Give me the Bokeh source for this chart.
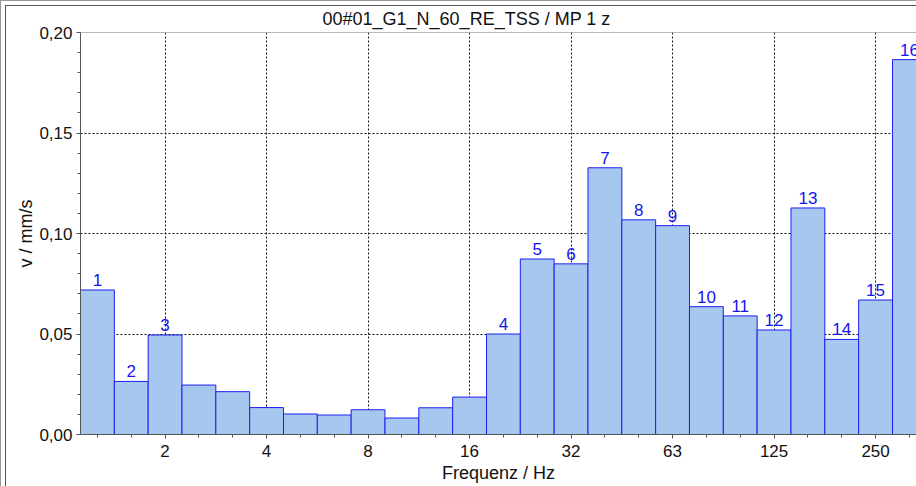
from bokeh.plotting import figure
from bokeh.models import (Range1d, FixedTicker, CustomJSTickFormatter, Span, ColumnDataSource)
from bokeh.core.properties import value
from bokeh.embed import file_html
from bokeh.resources import INLINE

# Third-octave band centre frequencies (Hz)
bands = ["1.25", "1.6", "2", "2.5", "3.15", "4", "5", "6.3", "8", "10", "12.5", "16",
         "20", "25", "31.5", "40", "50", "63", "80", "100", "125", "160", "200", "250", "315"]
# velocity per band (mm/s)
values = [0.0719, 0.0264, 0.0495, 0.0246, 0.0213, 0.0134, 0.0102, 0.0097, 0.0123, 0.0082,
          0.0133, 0.0186, 0.0500, 0.0873, 0.0849, 0.1327, 0.1068, 0.1039, 0.0636, 0.0590,
          0.0520, 0.1127, 0.0473, 0.0669, 0.1865]
# numbered peak markers: band of each marker
peak_bands = ["1.25", "1.6", "2", "20", "25", "31.5", "40", "50", "63", "80", "100",
              "125", "160", "200", "250", "315"]
peak_numbers = [str(i) for i in range(1, 17)]
# x tick labels and the bands they sit on
tick_bands = ["2", "4", "8", "16", "31.5", "63", "125", "250"]
tick_labels = ["2", "4", "8", "16", "32", "63", "125", "250"]
y_ticks = [0.0, 0.05, 0.10, 0.15, 0.20]

title_text = "00#01_G1_N_60_RE_TSS / MP 1 z"
FONT = "Liberation Sans"
FS = "17px"
FSL = "18px"

x_idx = list(range(len(bands)))
bar_src = ColumnDataSource(dict(x=x_idx, top=values))
peak_x = [bands.index(b) for b in peak_bands]
peak_y = [values[i] for i in peak_x]
lab_src = ColumnDataSource(dict(x=peak_x, y=peak_y, t=peak_numbers))

W, H = 916, 486
p = figure(width=W, height=H, output_backend="svg", toolbar_location=None,
           x_range=Range1d(-0.5, 24.21), y_range=Range1d(0, 0.2),
           min_border_left=80, min_border_right=0, min_border_top=32, min_border_bottom=52)
p.outline_line_color = None
p.background_fill_color = "white"
p.border_fill_color = None
p.styles = {"box-shadow": "inset 1px 1px 0 0 #999999, inset 5px 5px 0 0 #ffffff, "
                          "inset 6px 6px 0 0 #555555",
            "background-color": "white"}

p.title.text = title_text
p.title.align = "left"
p.title.offset = 242
p.title.text_font = FONT
p.title.text_font_size = FSL
p.title.text_font_style = "normal"
p.title.text_color = "#111111"
p.title.standoff = 7

p.vbar(x="x", top="top", width=1.0, source=bar_src,
       fill_color="#A6C8EF", line_color="#1E1EF2", line_width=1)

p.text(x="x", y="y", text="t", source=lab_src, text_align="center",
       text_baseline="bottom", y_offset=-4, text_color="#1414F0",
       text_font=value(FONT), text_font_size=FS)

# axes
xa = p.xaxis[0]
xa.ticker = FixedTicker(ticks=[bands.index(b) for b in tick_bands], minor_ticks=x_idx)
xa.major_label_overrides = {bands.index(b): l for b, l in zip(tick_bands, tick_labels)}
xa.axis_label = "Frequenz / Hz"
ya = p.yaxis[0]
ya.ticker = FixedTicker(ticks=y_ticks, minor_ticks=[i * 0.01 for i in range(21)])
ya.formatter = CustomJSTickFormatter(code="return tick.toFixed(2).replace('.', ',');")
ya.axis_label = "v / mm/s"
for ax in (xa, ya):
    ax.axis_line_color = "#555555"
    ax.major_tick_line_color = "#555555"
    ax.minor_tick_line_color = "#555555"
    ax.major_tick_in = 0
    ax.major_tick_out = 4
    ax.minor_tick_in = 0
    ax.minor_tick_out = 3
    ax.major_label_text_font = FONT
    ax.major_label_text_font_size = FS
    ax.major_label_text_color = "#111111"
    ax.axis_label_text_font = FONT
    ax.axis_label_text_font_size = FSL
    ax.axis_label_text_font_style = "normal"
    ax.axis_label_text_color = "#111111"
xa.major_label_standoff = 6
xa.axis_label_standoff = 3
ya.major_label_standoff = 4
ya.axis_label_standoff = 0

for g in (p.xgrid[0], p.ygrid[0]):
    g.grid_line_color = "#111111"
    g.grid_line_dash = "2 2"
    g.grid_line_width = 1

# top border of the plot area
p.add_layout(Span(location=0.2, dimension="width", line_color="#777777", line_width=1))

open("out.html", "w").write(file_html(p, INLINE))
